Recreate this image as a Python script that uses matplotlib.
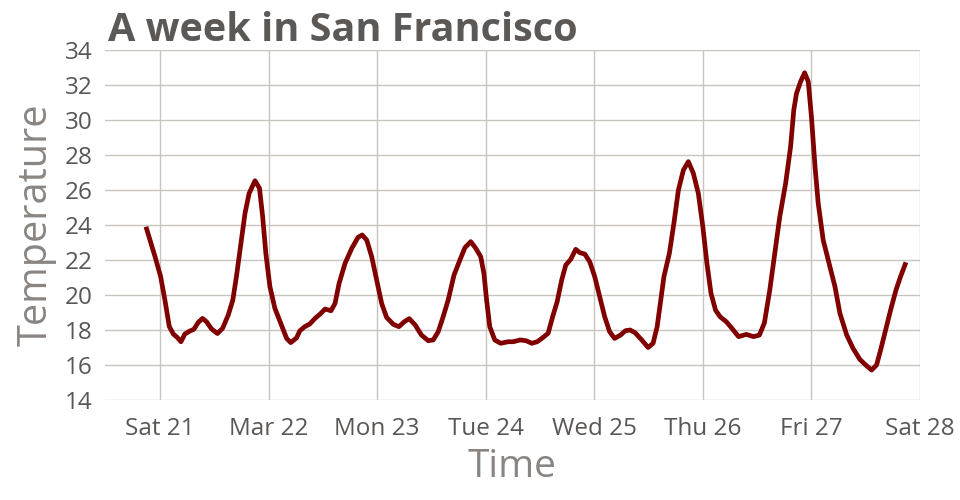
import matplotlib
matplotlib.use("Agg")
import matplotlib.pyplot as plt
import matplotlib.dates as mdates
import pandas as pd

# hours after 2020-03-21 00:00 and temperature
hours = [-3.1, -1.1, 0.15, 1.1, 2.06, 2.95, 3.8, 4.64, 5.5, 6.6, 7.5, 8.47, 9.4, 10.3,
         11.4, 12.7, 13.85, 15.1, 16.1, 16.9, 17.8, 18.8, 19.7, 21.0, 22.0, 22.7, 23.4,
         24.3, 25.4, 26.7, 28.0, 28.9, 30.2, 30.9, 32.0, 33.1, 34.3, 35.4, 36.5, 37.8,
         38.7, 39.6, 40.9, 42.4, 43.8, 44.7, 45.7, 46.8, 47.9, 49.0, 50.1, 51.6, 52.8,
         54.0, 55.1, 56.4, 57.8, 59.3, 60.4, 61.5, 62.6, 63.7, 65.0, 66.3, 67.4, 68.7,
         69.8, 70.9, 71.6, 72.2, 72.9, 74.0, 75.3, 77.0, 78.1, 79.6, 80.9, 82.2, 83.4,
         84.7, 85.8, 86.8, 87.8, 88.8, 89.7, 90.8, 91.9, 92.8, 93.9, 95.0, 96.1, 97.2,
         98.3, 99.4, 100.5, 101.8, 102.9, 103.9, 105.0, 106.5, 107.9, 109.0, 109.9,
         110.7, 111.4, 112.6, 113.6, 114.6, 115.7, 116.8, 117.9, 119.0, 120.0, 120.9,
         121.8, 122.8, 123.8, 125.2, 126.4, 127.9, 129.6, 131.2, 132.5, 133.6, 134.8,
         135.9, 137.0, 138.3, 139.4, 140.1, 140.7, 141.6, 142.5, 143.3, 144.0, 144.8,
         145.5, 146.6, 148.1, 149.2, 150.3, 151.8, 153.2, 154.7, 156.0, 157.3, 158.4,
         159.3, 160.4, 161.5, 162.7, 163.7, 164.9]
temps = [23.9, 22.2, 21.05, 19.7, 18.2, 17.77, 17.58, 17.33, 17.77, 17.94, 18.04, 18.44,
         18.66, 18.47, 18.06, 17.8, 18.1, 18.86, 19.71, 21.05, 22.76, 24.67, 25.8, 26.53,
         26.1, 24.47, 22.38, 20.48, 19.24, 18.38, 17.52, 17.28, 17.55, 17.95, 18.19, 18.34,
         18.67, 18.91, 19.2, 19.1, 19.52, 20.67, 21.8, 22.67, 23.3, 23.43, 23.14, 22.19,
         20.86, 19.52, 18.72, 18.32, 18.19, 18.47, 18.65, 18.29, 17.71, 17.39, 17.43, 17.9,
         18.76, 19.71, 21.14, 22.0, 22.7, 23.05, 22.67, 22.19, 21.24, 19.71, 18.19, 17.43,
         17.24, 17.33, 17.33, 17.43, 17.39, 17.24, 17.33, 17.58, 17.81, 18.76, 19.62, 20.86,
         21.71, 22.04, 22.61, 22.42, 22.34, 21.9, 21.05, 19.9, 18.76, 17.9, 17.52, 17.71,
         17.96, 18.0, 17.85, 17.43, 17.0, 17.24, 18.19, 19.71, 21.05, 22.38, 24.1, 26.0,
         27.14, 27.62, 26.95, 25.81, 23.9, 21.81, 20.1, 19.14, 18.76, 18.47, 18.1, 17.62,
         17.75, 17.62, 17.71, 18.4, 20.29, 22.38, 24.47, 26.38, 28.48, 30.57, 31.52, 32.19,
         32.7, 32.19, 30.19, 27.33, 25.24, 23.14, 21.62, 20.48, 18.95, 17.71, 16.95, 16.32,
         16.0, 15.71, 16.0, 16.86, 18.0, 19.14, 20.29, 21.05, 21.87]

tick_days = ["2020-03-21", "2020-03-22", "2020-03-23", "2020-03-24",
             "2020-03-25", "2020-03-26", "2020-03-27", "2020-03-28"]
tick_labels = ["Sat 21", "Mar 22", "Mon 23", "Tue 24", "Wed 25", "Thu 26", "Fri 27", "Sat 28"]
y_ticks = [14, 16, 18, 20, 22, 24, 26, 28, 30, 32, 34]

base = pd.Timestamp("2020-03-21")
times = base + pd.to_timedelta(hours, unit="h")

plt.rcParams["font.family"] = ["Open Sans", "DejaVu Sans"]

fig = plt.figure(figsize=(9.6, 5.0), dpi=100)
ax = fig.add_axes([105 / 960, 100 / 500, 815 / 960, 350 / 500])

ax.plot(times, temps, color="#800000", lw=3.4, solid_joinstyle="round",
        solid_capstyle="butt", zorder=3)

ax.set_ylim(14, 34)
ax.set_yticks(y_ticks)
ax.set_xlim(base - pd.Timedelta(hours=12.15), pd.Timestamp("2020-03-28"))
ax.set_xticks(pd.to_datetime(tick_days))
ax.set_xticklabels(tick_labels)

for s in ax.spines.values():
    s.set_visible(False)
ax.grid(True, color="#c8c5c1", lw=1.0)
ax.set_axisbelow(True)
ax.tick_params(length=0, labelsize=17.5, labelcolor="#5a5654")
ax.tick_params(axis="y", pad=9)
ax.tick_params(axis="x", pad=12)

ax.set_xlabel("Time", fontsize=28, color="#8a8580", labelpad=5)
ax.set_ylabel("Temperature", fontsize=28.5, color="#8a8580", labelpad=6)

fig.text(108 / 960, 1 - 41 / 500, "A week in San Francisco", fontsize=28.5,
         fontweight="bold", color="#5c5855", ha="left", va="baseline")

fig.savefig("out.png", dpi=100)
